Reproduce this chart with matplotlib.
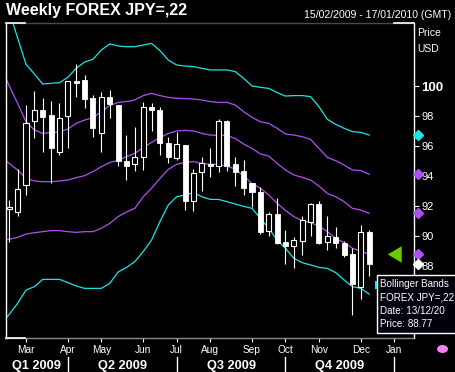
import numpy as np
import pandas as pd
import matplotlib
matplotlib.use('Agg')
import matplotlib.pyplot as plt
import matplotlib.dates as mdates
import matplotlib.transforms as mtransforms
from matplotlib.patches import Polygon, Rectangle, Ellipse

plt.rcParams['font.family'] = ['Liberation Sans', 'DejaVu Sans']

# Weekly candles, first week 15/02/2009
weeks = pd.date_range('2009-02-15', periods=44, freq='7D')
opens = [91.8, 91.62, 93.4, 97.7, 98.4, 98.07, 95.62, 98.02, 100.36, 100.4, 99.18, 96.85, 99.24, 98.73, 95.0,
         94.78, 95.29, 98.62, 98.4, 96.18, 95.22, 96.07, 92.36, 94.24, 94.8, 94.69, 97.67, 94.8, 94.33, 93.51,
         92.91, 90.36, 91.47, 89.62, 89.36, 89.69, 90.96, 92.13, 89.62, 89.96, 89.56, 88.8, 86.58, 90.27]
highs = [92.4, 94.47, 98.73, 99.67, 99.22, 99.0, 98.84, 100.35, 101.5, 100.73, 99.4, 99.58, 99.73, 98.75, 96.73,
         97.29, 98.93, 98.84, 98.62, 96.62, 96.96, 96.07, 94.44, 95.27, 95.84, 97.8, 97.73, 95.29, 95.07, 93.51,
         93.29, 91.62, 92.51, 90.4, 89.96, 91.33, 92.22, 92.33, 91.33, 90.62, 89.69, 89.18, 90.73, 90.4]
lows = [89.62, 91.35, 92.73, 96.51, 95.62, 93.51, 95.4, 95.89, 99.29, 98.51, 96.62, 95.58, 97.89, 94.69, 93.73,
        94.33, 94.4, 97.0, 95.4, 94.84, 95.07, 91.73, 91.69, 93.0, 93.96, 94.29, 94.33, 93.36, 92.73, 91.91,
        90.13, 90.02, 89.47, 88.13, 87.89, 88.73, 90.0, 89.47, 89.07, 89.18, 88.58, 84.73, 85.78, 87.33]
closes = [91.91, 93.11, 97.51, 98.4, 97.95, 95.9, 97.89, 100.33, 100.22, 99.11, 97.18, 99.29, 98.78, 95.0, 94.69,
          95.24, 98.58, 98.4, 96.18, 95.29, 96.11, 92.33, 94.18, 94.89, 94.69, 97.67, 94.69, 94.29, 93.22, 92.96,
          90.29, 91.44, 89.51, 89.36, 89.73, 91.07, 92.13, 89.56, 90.0, 89.56, 88.73, 86.8, 90.27, 88.13]

# Bollinger bands (one extra week at the start so the lines run into the frame)
band_weeks = pd.date_range('2009-02-08', periods=45, freq='7D')
upper2 = [106.8, 105.0, 103.2, 101.45, 100.8, 100.13, 100.18, 100.22, 100.58, 101.18, 101.6, 101.78, 102.4,
          102.8, 102.67, 102.62, 102.62, 102.73, 102.84, 102.36, 101.73, 101.4, 101.33, 101.29, 101.18, 101.07,
          101.07, 101.07, 100.96, 100.51, 100.0, 99.91, 99.84, 99.56, 99.33, 99.36, 99.36, 99.29, 98.62, 97.78,
          97.44, 97.18, 96.96, 96.91, 96.73]
upper1 = [101.25, 100.02, 98.84, 97.62, 97.07, 96.84, 96.91, 96.93, 97.13, 97.51, 97.73, 97.89, 98.29, 98.7,
          98.9, 98.96, 99.07, 99.36, 99.51, 99.36, 99.24, 99.18, 99.16, 99.13, 99.07, 98.96, 98.91, 98.91, 98.73,
          98.29, 97.91, 97.62, 97.51, 97.18, 96.8, 96.73, 96.62, 96.44, 95.84, 95.24, 95.02, 94.73, 94.4, 94.36,
          94.11]
middle = [95.3, 94.84, 94.4, 93.84, 93.67, 93.62, 93.62, 93.67, 93.73, 93.89, 94.02, 94.29, 94.62, 94.9, 95.03,
          95.29, 95.51, 95.89, 96.24, 96.56, 96.84, 97.0, 97.04, 97.0, 96.84, 96.73, 96.71, 96.71, 96.5, 96.13,
          95.84, 95.47, 95.33, 94.84, 94.4, 94.07, 93.91, 93.73, 93.33, 92.84, 92.62, 92.29, 91.84, 91.73, 91.51]
lower1 = [89.7, 89.78, 89.91, 90.13, 90.22, 90.29, 90.36, 90.36, 90.29, 90.24, 90.29, 90.29, 90.51, 90.84, 91.29,
          91.6, 91.84, 92.62, 93.18, 93.84, 94.44, 94.78, 94.91, 94.96, 94.84, 94.78, 94.78, 94.67, 94.45, 94.0,
          93.51, 93.18, 92.73, 92.18, 91.7, 91.29, 91.02, 90.89, 90.67, 90.29, 89.84, 89.56, 89.18, 89.0, 88.77]
lower2 = [84.1, 84.78, 85.51, 86.4, 86.62, 87.11, 87.11, 87.11, 86.89, 86.67, 86.51, 86.51, 86.51, 86.84, 87.6,
          87.9, 88.29, 88.96, 89.73, 90.96, 92.07, 92.62, 92.73, 92.89, 92.62, 92.44, 92.44, 92.29, 92.13, 91.98,
          91.84, 91.18, 90.51, 89.73, 89.18, 88.51, 88.22, 88.07, 87.91, 87.84, 87.56, 87.07, 86.62, 86.51, 86.13]

month_ticks = ['2009-03-01', '2009-04-05', '2009-05-03', '2009-06-07', '2009-07-05', '2009-08-02',
               '2009-09-06', '2009-10-04', '2009-11-01', '2009-12-06', '2010-01-03']
month_labels = ['Mar', 'Apr', 'May', 'Jun', 'Jul', 'Aug', 'Sep', 'Oct', 'Nov', 'Dec', 'Jan']
quarter_starts = ['2009-04-05', '2009-07-05', '2009-10-04', '2010-01-03']
quarter_labels = ['Q1 2009', 'Q2 2009', 'Q3 2009', 'Q4 2009']
price_ticks = [88, 90, 92, 94, 96, 98, 100]
# tooltip text as far as it is visible in the window
tip_lines = ['Bollinger Bands', 'FOREX JPY=,22', 'Date: 13/12/20', 'Price: 88.77']

CYAN = '#1ae6e6'
PURPLE = '#b150f2'
W, H = 455, 372

fig = plt.figure(figsize=(W / 100, H / 100), dpi=100, facecolor='black')
ax = fig.add_axes([5.5 / W, 34 / H, 408 / W, 314.7 / H])
ax.set_facecolor('black')

x = mdates.date2num(weeks.to_pydatetime())
xb = mdates.date2num(band_weeks.to_pydatetime())
o, h, l, c = map(np.array, (opens, highs, lows, closes))

# bands
for vals, col in [(upper2, CYAN), (upper1, PURPLE), (middle, PURPLE), (lower1, PURPLE), (lower2, CYAN)]:
    ax.plot(xb, vals, color=col, lw=0.9, zorder=2)

# candles
ax.vlines(x, l, h, color='white', lw=0.8, zorder=3)
up = c >= o
body_w = 4.2
ax.bar(x[up], (c - o)[up], bottom=o[up], width=body_w, facecolor='black',
       edgecolor='white', linewidth=0.8, zorder=4)
ax.bar(x[~up], (o - c)[~up], bottom=c[~up], width=body_w, facecolor='white',
       edgecolor='white', linewidth=0.6, zorder=4)

x0 = x[0]
ax.set_xlim(x0 - 3.14, x0 + 338.05)
ax.set_ylim(83.2, 104.18)

# right price axis
ax.yaxis.tick_right()
ax.set_yticks(price_ticks)
ax.set_yticklabels([str(p) for p in price_ticks])
ax.tick_params(axis='y', colors='white', length=3.5, width=0.8, pad=2, labelsize=8)
for lab in ax.get_yticklabels():
    if lab.get_text() == '100':
        lab.set_fontweight('bold')
        lab.set_fontsize(9.5)

# month axis
ax.set_xticks(mdates.date2num(pd.to_datetime(month_ticks).to_pydatetime()))
ax.set_xticklabels(month_labels)
ax.tick_params(axis='x', colors='white', length=3, width=0.8, pad=2.3, labelsize=7.3)

for side in ['left', 'right']:
    ax.spines[side].set_color('white')
    ax.spines[side].set_linewidth(1)
ax.spines['top'].set_color('#4a4a4a')
ax.spines['bottom'].set_color('#8a8a8a')
for s in ['top', 'bottom']:
    ax.spines[s].set_linewidth(1)
ax.plot([0, 0.048], [1, 1], transform=ax.transAxes, color='white', lw=1.2, clip_on=False, zorder=6)
ax.plot([0.951, 1], [1, 1], transform=ax.transAxes, color='white', lw=1.2, clip_on=False, zorder=6)
ax.plot([0, 0.048], [0, 0], transform=ax.transAxes, color='white', lw=1.2, clip_on=False, zorder=6)

# quarter row
blend = mtransforms.blended_transform_factory(ax.transData, ax.transAxes)
qx = mdates.date2num(pd.to_datetime(quarter_starts).to_pydatetime())
bounds = [ax.get_xlim()[0]] + list(qx)
for i, lab in enumerate(quarter_labels):
    ax.text((bounds[i] + bounds[i + 1]) / 2, -0.088, lab, transform=blend, ha='center', va='center',
            color='white', fontsize=9.2, fontweight='bold')
for q in qx:
    ax.plot([q, q], [-0.059, -0.11], transform=blend, color='white', lw=1, clip_on=False)

# last-value markers on the price axis
mblend = mtransforms.blended_transform_factory(ax.transAxes, ax.transData)
for val, col in [(upper2[-1], CYAN), (upper1[-1], PURPLE), (middle[-1], PURPLE),
                 (lower1[-1], PURPLE), (lower2[-1], CYAN), (closes[-1], 'white')]:
    ax.plot([1.0118], [val], marker='D', markersize=4.6, color=col, transform=mblend,
            clip_on=False, zorder=7)

# pointer triangle
tri = Polygon([[0.9368, lower1[-1]], [0.9711, lower1[-1] + 0.55], [0.9711, lower1[-1] - 0.55]],
              closed=True, transform=mblend, facecolor='#66cc00', edgecolor='none', zorder=7)
ax.add_patch(tri)

# header
fig.text(6.5 / W, 1 - 11 / H, 'Weekly FOREX JPY=,22', color='white', fontsize=11.5,
         fontweight='bold', va='center', ha='left')
fig.text(451 / W, 1 - 14.5 / H, '15/02/2009 - 17/01/2010 (GMT)', color='white', fontsize=7.6,
         va='center', ha='right')
fig.text(417.5 / W, 1 - 33 / H, 'Price', color='white', fontsize=7.5, va='center', ha='left')
fig.text(417.5 / W, 1 - 49 / H, 'USD', color='white', fontsize=7.5, va='center', ha='left')

# tooltip
fig.patches.append(Rectangle((376.7 / W, 1 - 333.3 / H), 0.2, 58.3 / H, transform=fig.transFigure,
                             facecolor='#00000a', edgecolor='white', lw=1, zorder=4))
fig.patches.append(Rectangle((375.3 / W, 1 - 289.3 / H), 2 / W, 8.6 / H, transform=fig.transFigure,
                             facecolor=CYAN, edgecolor='none', zorder=5))
for i, t in enumerate(tip_lines):
    fig.text(380 / W, 1 - (284.3 + 13.1 * i) / H, t, color='white', fontsize=7.1, va='center',
             ha='left', zorder=6)

fig.patches.append(Ellipse((442.5 / W, 1 - 349 / H), 11 / W, 8 / H, transform=fig.transFigure,
                           facecolor='#ff80f4', edgecolor='none', zorder=4))

fig.savefig('out.png', dpi=100, facecolor='black')
